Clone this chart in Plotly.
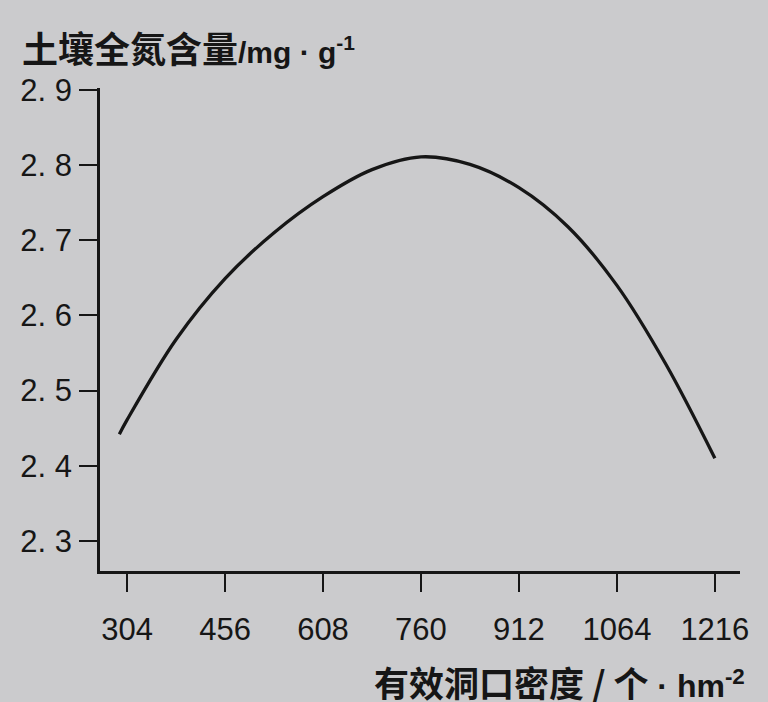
import plotly.graph_objects as go

# Data
density = [292, 304, 380, 456, 532, 608, 684, 760, 836, 912, 988, 1064, 1140, 1216]
nitrogen = [2.442, 2.461, 2.568, 2.649, 2.710, 2.758, 2.794, 2.811, 2.801, 2.770, 2.718, 2.640, 2.535, 2.410]

x_ticks = [304, 456, 608, 760, 912, 1064, 1216]
y_ticks = [2.3, 2.4, 2.5, 2.6, 2.7, 2.8, 2.9]
y_tick_text = ["2. 3", "2. 4", "2. 5", "2. 6", "2. 7", "2. 8", "2. 9"]

LAT_Y = "font-family:Liberation Sans;font-size:30px"
LAT_X = "font-family:Liberation Sans;font-size:32px"
y_title = "土壤全氮含量<span style='%s'>/mg · g<sup>-1</sup></span>" % LAT_Y
x_title = "有效洞口密度 / 个<span style='%s'> · hm<sup>-2</sup></span>" % LAT_X

BG = "#cbcbcd"
INK = "#161616"
NUM_FONT = "Liberation Sans, Arial, sans-serif"
CJK_FONT = "Noto Sans CJK SC, sans-serif"

fig = go.Figure()
fig.add_trace(go.Scatter(
    x=density, y=nitrogen, mode="lines",
    line=dict(color=INK, width=3.3, shape="spline", smoothing=1.0),
    hoverinfo="skip", showlegend=False,
))

fig.update_layout(
    width=768, height=702,
    margin=dict(l=100, r=28, t=88, b=131),
    paper_bgcolor=BG, plot_bgcolor=BG,
    showlegend=False,
    xaxis=dict(
        range=[262, 1255], tickmode="array", tickvals=x_ticks,
        ticktext=[str(v) for v in x_ticks],
        showgrid=False, zeroline=False,
        showline=True, linecolor=INK, linewidth=2.5,
        ticks="outside", ticklen=18, tickwidth=2, tickcolor=INK,
        ticklabelstandoff=11,
        tickfont=dict(family=NUM_FONT, size=31, color=INK),
    ),
    yaxis=dict(
        range=[2.260, 2.9026], tickmode="array", tickvals=y_ticks,
        ticktext=y_tick_text,
        showgrid=False, zeroline=False,
        showline=True, linecolor=INK, linewidth=2.5,
        ticks="outside", ticklen=18, tickwidth=2, tickcolor=INK,
        ticklabelstandoff=1,
        tickfont=dict(family=NUM_FONT, size=31, color=INK),
    ),
    annotations=[
        dict(text=y_title, xref="paper", yref="paper",
             x=(20 - 100) / 640, y=(571 - 47) / 483,
             xanchor="left", yanchor="middle", showarrow=False,
             font=dict(family=CJK_FONT, size=36, color=INK, weight="bold")),
        dict(text=x_title, xref="paper", yref="paper",
             x=(747 - 100) / 640, y=(571 - 681) / 483,
             xanchor="right", yanchor="middle", showarrow=False,
             font=dict(family=CJK_FONT, size=35, color=INK, weight="bold")),
    ],
)

fig.write_html("out.html", config={"displayModeBar": False},
               post_script="document.body.style.margin='0';document.body.style.background='%s';" % BG)
